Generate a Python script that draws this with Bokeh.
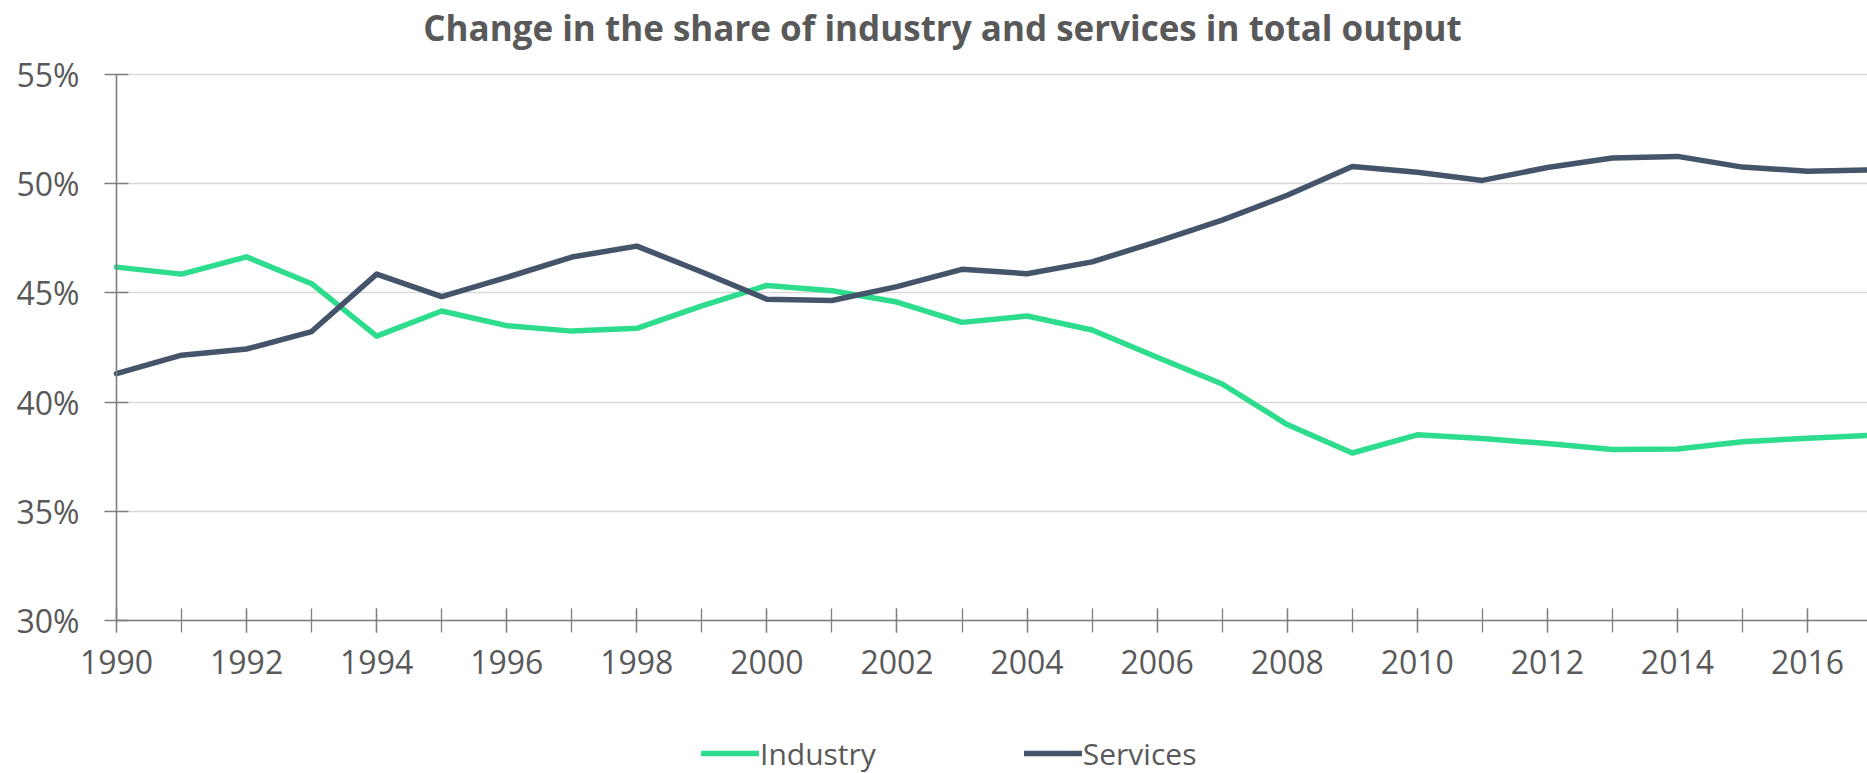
from bokeh.plotting import figure
from bokeh.models import Range1d, FixedTicker, Legend, LegendItem, Label
from bokeh.embed import file_html
from bokeh.resources import INLINE

# ---- data ----
years = list(range(1990, 2018))
industry = [46.18, 45.86, 46.65, 45.42, 43.02, 44.17, 43.50, 43.25, 43.38, 44.41,
            45.34, 45.10, 44.58, 43.65, 43.94, 43.30, 42.05, 40.83, 38.97, 37.67,
            38.50, 38.33, 38.10, 37.83, 37.85, 38.18, 38.35, 38.48]
services = [41.30, 42.15, 42.43, 43.23, 45.86, 44.83, 45.71, 46.64, 47.14, 45.96,
            44.71, 44.65, 45.29, 46.08, 45.88, 46.42, 47.35, 48.33, 49.47, 50.79,
            50.52, 50.15, 50.74, 51.18, 51.25, 50.76, 50.57, 50.63]
y_ticks = [30, 35, 40, 45, 50, 55]
y_tick_labels = ["30%", "35%", "40%", "45%", "50%", "55%"]
x_label_years = list(range(1990, 2018, 2))
title_text = "Change in the share of industry and services in total output"
series_names = ["Industry", "Services"]

GREEN = "#2EDC8D"
DARK = "#44546A"
TEXT = "#595959"
AXIS = "#7F7F7F"
GRID = "#D9D9D9"

# ---- geometry (pixels) ----
W, H = 1867, 773
AXIS_X_PX = 116            # pixel column of the y axis (1990)
Y55_PX, Y30_PX = 74, 620   # pixel rows of 55% and 30%
PX_PER_YEAR = 65.04
PX_PER_PCT = (Y30_PX - Y55_PX) / 25.0
x_start = 1990 - AXIS_X_PX / PX_PER_YEAR
x_end = 1990 + (W - AXIS_X_PX) / PX_PER_YEAR
y_top = 55 + Y55_PX / PX_PER_PCT
y_bottom = 30 - (H - Y30_PX) / PX_PER_PCT

p = figure(width=W, height=H, output_backend="svg", toolbar_location=None,
           x_range=Range1d(x_start, x_end), y_range=Range1d(y_bottom, y_top),
           min_border_left=0, min_border_top=0, min_border_bottom=0,
           min_border_right=0, background_fill_color="white",
           border_fill_color="white")
p.outline_line_color = None
p.xgrid.visible = False

# horizontal gridlines, only right of the y axis
yg = p.ygrid[0]
if "cross_bounds" in yg.properties():
    yg.grid_line_color = GRID
    yg.grid_line_width = 1.3
    yg.cross_bounds = (1990, x_end)
    yg.ticker = FixedTicker(ticks=y_ticks, minor_ticks=[])
else:
    yg.visible = False
    p.segment(x0=[1990] * len(y_ticks), y0=y_ticks,
              x1=[x_end] * len(y_ticks), y1=y_ticks,
              line_color=GRID, line_width=1.3, level="underlay")

# x axis, pinned at 30%
xa = p.xaxis[0]
xa.fixed_location = 30
xa.bounds = (1990, x_end)
xa.ticker = FixedTicker(ticks=x_label_years, minor_ticks=years)
xa.axis_line_color = AXIS
xa.axis_line_width = 1.6
xa.major_tick_line_color = AXIS
xa.minor_tick_line_color = AXIS
xa.major_tick_line_width = 1.3
xa.minor_tick_line_width = 1.3
xa.major_tick_in = 12
xa.major_tick_out = 12
xa.minor_tick_in = 12
xa.minor_tick_out = 12
xa.major_label_standoff = 17
xa.major_label_text_font = "Open Sans"
xa.major_label_text_font_size = "32px"
xa.major_label_text_color = TEXT

# y axis, pinned at 1990 and limited to 30%..55%
ya = p.yaxis[0]
ya.fixed_location = 1990
ya.bounds = (30, 55)
ya.ticker = FixedTicker(ticks=y_ticks, minor_ticks=[])
ya.major_label_overrides = {t: l for t, l in zip(y_ticks, y_tick_labels)}
ya.axis_line_color = AXIS
ya.axis_line_width = 1.6
ya.major_tick_line_color = AXIS
ya.major_tick_line_width = 1.3
ya.major_tick_in = 12
ya.major_tick_out = 12
ya.minor_tick_line_color = None
ya.major_label_standoff = 25
ya.major_label_text_font = "Open Sans"
ya.major_label_text_font_size = "32px"
ya.major_label_text_color = TEXT

line_style = dict(line_width=5.5, line_cap="round", line_join="round")
r1 = p.line(years, industry, line_color=GREEN, **line_style)
r2 = p.line(years, services, line_color=DARK, **line_style)

# title
title_x = 1990 + (942 - AXIS_X_PX) / PX_PER_YEAR
title_y = 55 + (Y55_PX - 27) / PX_PER_PCT
p.add_layout(Label(x=title_x, y=title_y, text=title_text, text_align="center",
                   text_baseline="alphabetic", text_font="Open Sans",
                   text_font_style="bold", text_font_size="35px",
                   text_color=TEXT))

# legend
legend = Legend(items=[LegendItem(label=series_names[0], renderers=[r1]),
                       LegendItem(label=series_names[1], renderers=[r2])],
                location=(701, -2), orientation="horizontal", padding=0,
                margin=0, spacing=148, border_line_color=None,
                background_fill_alpha=0, glyph_width=58, glyph_height=44,
                label_height=44, label_standoff=1, label_text_font="Open Sans",
                label_text_font_size="30px", label_text_color=TEXT)
p.add_layout(legend, "center")

open("out.html", "w").write(file_html(p, INLINE))
